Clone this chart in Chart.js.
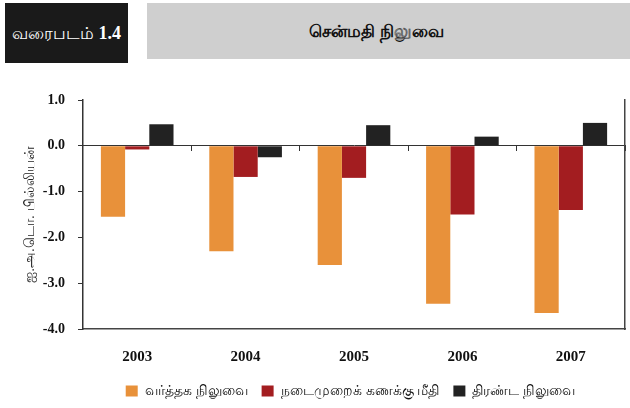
<!DOCTYPE html>
<html>
<head>
<meta charset="utf-8">
<script src="https://cdn.jsdelivr.net/npm/chart.js@4"></script>
<style>
  body { margin: 0; width: 630px; height: 408px; background: #fff; overflow: hidden; font-family: "Noto Sans", sans-serif; }
  .head { position: relative; height: 65px; }
  .tag { position: absolute; left: 5px; top: 3px; width: 123px; height: 60px; background: #1a1a1a; color: #fff;
         font-size: 17px; line-height: 60px; text-align: center; white-space: nowrap; }
  .tag b { font-family: "Liberation Serif", serif; font-size: 18px; }
  .band { position: absolute; left: 147px; top: 3px; width: 483px; height: 56px; background: #cfcfcf;
          font-size: 17px; font-weight: bold; line-height: 56px; text-align: center; color: #111; padding-right: 24px; box-sizing: border-box; }
  .wrap { position: relative; width: 630px; height: 343px; }
</style>
</head>
<body>
<div class="head">
  <div class="tag">வரைபடம் <b>1.4</b></div>
  <div class="band">சென்மதி நிலுவை</div>
</div>
<div class="wrap"><canvas id="chart" width="630" height="343"></canvas></div>
<script>
const years = ['2003', '2004', '2005', '2006', '2007'];
const tradeBalance = [-1.55, -2.3, -2.6, -3.45, -3.65];
const currentAccount = [-0.08, -0.68, -0.7, -1.5, -1.4];
const overallBalance = [0.47, -0.25, 0.45, 0.2, 0.5];
const yTicks = [1, 0, -1, -2, -3, -4];

const seriesNames = ['வர்த்தக நிலுவை', 'நடைமுறைக் கணக்கு மீதி', 'திரண்ட நிலுவை'];
const seriesColors = ['#e8913a', '#a31d20', '#222222'];

const serif = 'Liberation Serif, serif';
const ctx = document.getElementById('chart');

// the printed legend sits right of centre
const legendShift = {
    id: 'legendShift',
    afterLayout(chart) {
        chart.legend.left += 35;
        chart.legend.right += 35;
    }
};

const chart = new Chart(ctx, {
    type: 'bar',
    data: {
        labels: years,
        datasets: [tradeBalance, currentAccount, overallBalance].map((d, i) => ({
            label: seriesNames[i],
            data: d,
            backgroundColor: seriesColors[i],
            borderWidth: 0,
            xAxisID: 'x',
            yAxisID: 'y'
        }))
    },
    plugins: [legendShift],
    options: {
        responsive: false,
        animation: false,
        layout: { padding: { left: 6, right: 5, top: 35, bottom: 0 } },
        datasets: { bar: { categoryPercentage: 0.67, barPercentage: 1 } },
        scales: {
            x: {
                type: 'category',
                position: { y: 0 },
                grid: { display: true, drawOnChartArea: false, offset: true, tickLength: 5, color: '#333' },
                border: { display: true, color: '#333', width: 1 },
                ticks: { display: false }
            },
            xl: {
                type: 'category',
                position: 'bottom',
                offset: true,
                afterFit: axis => { axis.height = 41; },
                ticks: {
                    color: '#111',
                    font: { family: serif, size: 15, weight: 'bold' },
                    padding: 19,
                    maxRotation: 0
                },
                grid: { display: false, drawTicks: false },
                border: { display: true, color: '#444', width: 1.5 }
            },
            y: {
                min: -4,
                max: 1,
                afterBuildTicks: axis => { axis.ticks = yTicks.map(v => ({ value: v })); },
                afterFit: axis => { axis.width = 77; },
                ticks: {
                    callback: v => v.toFixed(1),
                    color: '#111',
                    font: { family: serif, size: 14, weight: 'bold' },
                    padding: 13
                },
                grid: { drawOnChartArea: false, tickLength: 5, color: '#333' },
                border: { display: true, color: '#333', width: 1.5 },
                title: {
                    display: true,
                    text: 'ஐ.அ.டொ. பில்லியன்',
                    color: '#222',
                    font: { size: 14 },
                    padding: { top: 16, bottom: 0 }
                }
            },
            y2: {
                position: 'right',
                min: -4,
                max: 1,
                afterFit: axis => { axis.width = 0; },
                ticks: { display: false },
                grid: { display: false },
                border: { display: true, color: '#444', width: 1.5 }
            }
        },
        plugins: {
            legend: {
                position: 'bottom',
                labels: {
                    boxWidth: 12,
                    boxHeight: 11,
                    color: '#111',
                    padding: 14,
                    font: { size: 14 }
                }
            },
            tooltip: { enabled: false }
        }
    }
});
</script>
</body>
</html>
